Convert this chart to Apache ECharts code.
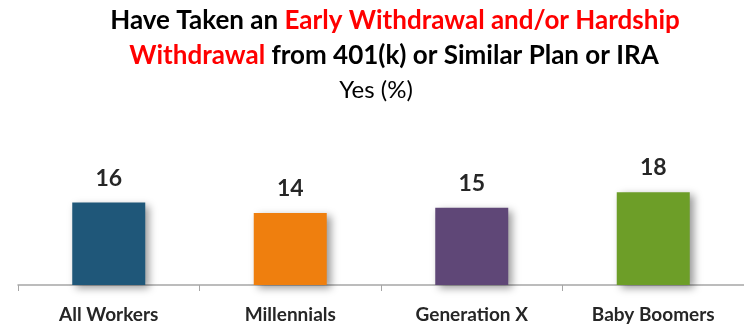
<!DOCTYPE html>
<html><head><meta charset="utf-8">
<script src="https://cdn.jsdelivr.net/npm/echarts@6/dist/echarts.min.js"></script>
<style>html,body{margin:0;padding:0;background:#fff}#c{width:744px;height:324px}</style>
</head><body><div id="c"></div>
<script>
const categories = ['All Workers', 'Millennials', 'Generation X', 'Baby Boomers'];
const values = [16, 14, 15, 18];
const barColors = ['#1F5779', '#EF7F0E', '#5F4777', '#6D9E28'];
const titleLine1 = ['Have Taken an ', 'Early Withdrawal and/or Hardship'];
const titleLine2 = ['Withdrawal', ' from 401(k) or Similar Plan or IRA'];
const subtitle = 'Yes (%)';

const rich = {
  b: {fontFamily: 'Lato', fontWeight: 'bold', fontSize: 26, color: '#000'},
  r: {fontFamily: 'Lato', fontWeight: 'bold', fontSize: 26, color: '#FF0000'}
};
const chart = echarts.init(document.getElementById('c'), null, {renderer: 'canvas'});
chart.setOption({
  animation: false,
  title: [
    {left: 390, textAlign: 'center', top: 3, text: '{b|' + titleLine1[0] + '}{r|' + titleLine1[1] + '}', textStyle: {rich}},
    {left: 389, textAlign: 'center', top: 38, text: '{r|' + titleLine2[0] + '}{b|' + titleLine2[1] + '}', textStyle: {rich}},
    {left: 371, textAlign: 'center', top: 73, text: subtitle, textStyle: {fontFamily: 'Lato', fontWeight: 'normal', fontSize: 24, color: '#000'}}
  ],
  grid: {left: 18, right: -3, top: 182, bottom: 38, containLabel: false},
  xAxis: {
    type: 'category', data: categories,
    axisLine: {lineStyle: {color: '#A6A6A6', width: 1.5}},
    axisTick: {show: true, length: 6, lineStyle: {color: '#A6A6A6'}},
    axisLabel: {fontFamily: 'Lato', fontWeight: 'bold', fontSize: 19, color: '#262626', margin: 20}
  },
  yAxis: {type: 'value', min: 0, max: 20, show: false, splitLine: {show: false}},
  series: [{
    type: 'bar', barWidth: 73,
    data: values.map((v, i) => ({value: v, itemStyle: {color: barColors[i]}})),
    itemStyle: {shadowColor: 'rgba(0,0,0,0.4)', shadowBlur: 8, shadowOffsetX: 4, shadowOffsetY: 3},
    label: {show: true, position: 'top', distance: 13, fontFamily: 'Lato', fontWeight: 'bold', fontSize: 23, color: '#262626'}
  }]
});
</script></body></html>
